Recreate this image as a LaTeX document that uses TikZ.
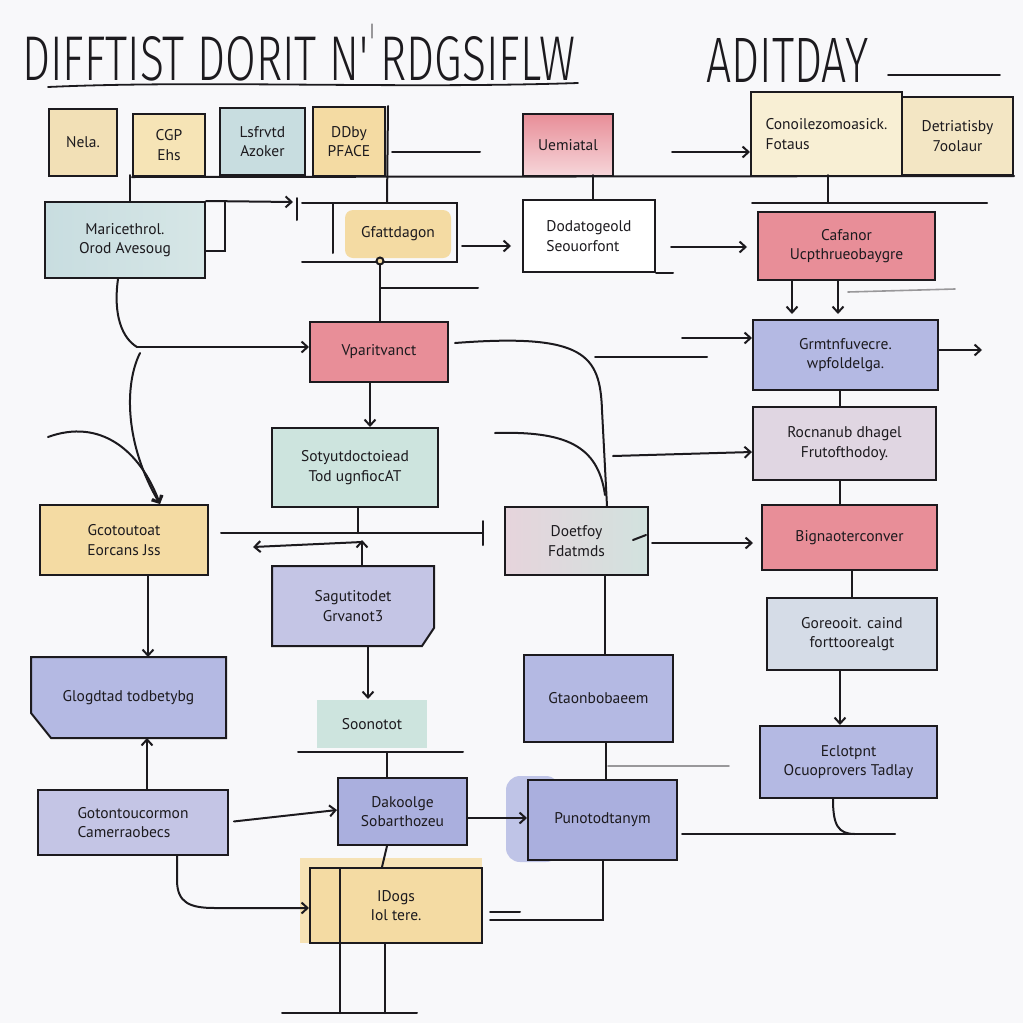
\documentclass[tikz,border=0pt]{standalone}
\usepackage{fontspec}
\setmainfont{PT Sans}
\newfontfamily\titlefont{Fira Sans Light}
\usetikzlibrary{arrows.meta,calc,backgrounds}
\definecolor{bg}{RGB}{248,248,250}
\definecolor{ink}{RGB}{28,26,30}
\definecolor{cNela}{RGB}{242,224,182}
\definecolor{cYel}{RGB}{244,219,163}
\definecolor{cYelA}{RGB}{246,228,182}
\definecolor{cYelL}{RGB}{248,239,212}
\definecolor{cYelD}{RGB}{243,230,196}
\definecolor{cTeal}{RGB}{200,221,224}
\definecolor{cTealL}{RGB}{214,230,230}
\definecolor{cTealG}{RGB}{205,228,222}
\definecolor{cPink}{RGB}{232,142,152}
\definecolor{cPinkL}{RGB}{246,214,218}
\definecolor{cBlue}{RGB}{180,185,227}
\definecolor{cBlueD}{RGB}{170,175,222}
\definecolor{cBlueL}{RGB}{196,197,229}
\definecolor{cMauve}{RGB}{224,214,226}
\definecolor{cMauveA}{RGB}{230,212,220}
\definecolor{cMint}{RGB}{210,226,222}
\definecolor{cGrey}{RGB}{213,220,231}
\tikzset{
  box/.style={draw=ink, line width=2pt, inner sep=3pt, align=center, text=ink,
              font=\fontsize{15.5}{19.5}\selectfont},
  ln/.style={draw=ink, line width=2pt, line cap=round},
  faint/.style={draw=ink!45, line width=1.2pt, line cap=round},
  arr/.style={ln, -{Straight Barb[length=6pt,width=11pt]}},
  title/.style={text=ink, inner sep=0pt, anchor=base west, font=\titlefont}
}
\begin{document}
\begin{tikzpicture}[x=1pt,y=-1pt]
\useasboundingbox (0,0) rectangle (1023,1023);
\begin{scope}[on background layer]
  \fill[bg] (0,0) rectangle (1023,1023);
\end{scope}

% ---------- title ----------
\node[title] (t1) at (22,80) {\resizebox{553pt}{44pt}{DIFFTIST DORIT N' RDGSIFLW}};
\node[title] (t2) at (706,82) {\resizebox{162pt}{44pt}{ADITDAY}};
\draw[ln, line width=1.8pt] (48,87) .. controls (200,80) and (400,89) .. (578,83);
\draw[ln, line width=1.8pt] (888,75) -- (1000,75);
\draw[faint] (372,24) -- (372,38);

% ---------- top row ----------
\node[box, fill=cNela, minimum width=68pt, minimum height=67pt] (nela) at (83,142.5) {Nela.};
\node[box, fill=cYelA, minimum width=72pt, minimum height=62pt] (cgp) at (169,145) {CGP\\Ehs};
\node[box, fill=cTeal, minimum width=85pt, minimum height=67pt] (lsf) at (262.5,141.5) {Lsfrvtd\\Azoker};
\node[box, fill=cYel, minimum width=72pt, minimum height=69pt] (ddby) at (349,141.5) {DDby\\PFACE};
\node[box, top color=cPink, bottom color=cPinkL, minimum width=90pt, minimum height=62pt] (uem) at (568,145) {Uemiatal};
\node[box, fill=cYelL, minimum width=151pt, minimum height=84pt, align=left] (cono) at (826.5,134) {Conoilezomoasick.\\Fotaus};
\node[box, fill=cYelD, minimum width=111pt, minimum height=78pt] (detr) at (957.5,136) {Detriatisby\\7oolaur};

\draw[ln] (cgp.south west) -- (detr.south east);
\draw[ln] ([yshift=-10pt]ddby.east) ++(6,0) -- ++(88,0);
\coordinate (conoIn) at (672,152);
\draw[arr] (conoIn) -- (cono.west |- conoIn);

% ---------- row 2 ----------
\node[box, left color=cTeal, right color=cTealL, minimum width=160pt, minimum height=76pt] (marter) at (125,240) {Maricethrol.\\Orod Avesoug};
\node[box, draw=none, fill=cYel, rounded corners=8pt, minimum width=106pt, minimum height=48pt] (gfat) at (398,234) {Gfattdagon};
\node[box, fill=white, minimum width=132pt, minimum height=72pt, align=left] (doda) at (589,236) {Dodatogeold\\Seouorfont};
\node[box, fill=cPink, minimum width=177pt, minimum height=68pt] (cafa) at (846.5,246) {Cafanor\\Ucpthrueobaygre};

% frame around gfat
\draw[ln] (302,203) -- (457,203) -- (457,262) -- (302,262);
\draw[ln] (333,203) -- (333,253);
% bus drops
\draw[ln] (marter.north -| 130,0) -- ++(0,-26);
\draw[ln] (ddby.north east) ++(2,0) -- (387,203);
\draw[ln] (doda.north -| 593,0) -- ++(0,-24);
\draw[ln] (cafa.north -| 828,0) ++(0,-9) -- ++(0,-27);
\draw[ln] (752,203) -- (987,203);
% marter connectors
\draw[arr] (marter.north east) -- (293,202);
\draw[ln] (297,198) -- (297,220);
\draw[ln] (225,202) -- (225,251) -- (205,251);
\draw[ln] (doda.south east) -- ++(17,0);
\draw[arr, shorten <=10pt, shorten >=11pt] (gfat.east |- 0,246) -- (doda.west |- 0,246);
\draw[arr, shorten <=15pt, shorten >=10pt] (doda.east |- 0,247) -- (cafa.west |- 0,247);

% ---------- row 3 ----------
\node[box, fill=cPink, minimum width=138pt, minimum height=60pt] (vpar) at (379,352) {Vparitvanct};
\node[box, fill=cBlue, minimum width=185pt, minimum height=70pt] (gret) at (845.5,355) {Grmtnfuvecre.\\wpfoldelga.};

\draw[ln] (gfat.south -| 380,0) ++(0,4) -- (vpar.north -| 380,0);
\draw[ln, fill=cYel] (380,261) circle (3.5pt);
\draw[ln] (380,288) -- (478,288);
\draw[arr] (cafa.south -| 792,0) -- ++(0,33);
\draw[arr] (cafa.south -| 838,0) -- ++(0,33);
\draw[faint, line width=1.6pt] (848,292) -- (955,289);
\coordinate (gretIn) at (682,338);
\draw[arr] (gretIn) -- (gret.west |- gretIn);
\coordinate (gretOut) at (982,350);
\draw[arr] (gret.east |- gretOut) -- (gretOut);
\draw[ln] (595,357) -- (707,357);

% marter curves
\coordinate (split) at (137,347);
\draw[ln] (marter.south -| 118,0) .. controls (113,315) and (122,338) .. (split);
\draw[arr] (split) -- (vpar.west |- split);

% ---------- row 4 ----------
\node[box, fill=cTealG, minimum width=166pt, minimum height=79pt] (soty) at (355,467.5) {Sotyutdoctoiead\\Tod ugnfiocAT};
\node[box, fill=cMauve, minimum width=183pt, minimum height=73pt] (rocn) at (844.5,443.5) {Rocnanub dhagel\\Frutofthodoy.};

\draw[arr] (vpar.south -| 370,0) -- (soty.north -| 370,0);
\draw[ln] (gret.south -| 840,0) -- (rocn.north -| 840,0);

% ---------- row 5 ----------
\node[box, fill=cYel, minimum width=168pt, minimum height=70pt] (gcot) at (124,540) {Gcotoutoat\\Eorcans Jss};
\node[box, left color=cMauveA, right color=cMint, minimum width=143pt, minimum height=68pt] (doet) at (576.5,541) {Doetfoy\\Fdatmds};
\node[box, fill=cPink, minimum width=175pt, minimum height=65pt] (bign) at (849.5,537.5) {Bignaoterconver};

\draw[arr] (140,353) .. controls (124,385) and (125,445) .. (gcot.north -| 160,0);
\draw[arr] (48,437) .. controls (100,418) and (140,450) .. (gcot.north -| 160,0);
\coordinate (vparOut) at (455,343);
\draw[ln] (vparOut) .. controls (585,333) and (600,355) .. (602,410) -- (doet.north -| 607,0);
\draw[ln] (495,433) .. controls (565,431) and (598,445) .. (605,495);
\coordinate (rocnIn) at (613,456);
\draw[arr] (rocnIn) -- (rocn.west |- 0,452);
\draw[ln] (rocn.south -| 840,0) -- (bign.north -| 840,0);
\draw[arr, shorten <=3pt, shorten >=8pt] (doet.east |- 0,543) -- (bign.west |- 0,543);
\draw[ln] (633,540) -- (646,535);

\coordinate (tEnd) at (483,533);
\draw[ln] (gcot.east |- tEnd) ++(12,0) -- (tEnd);
\draw[ln] (483,521) -- (483,545);
\draw[arr] (362,542) -- (253,547);
\draw[ln] (soty.south -| 358,0) -- (358,533);

% ---------- row 6 ----------
\node[box, draw=none, minimum width=160pt, minimum height=78pt] (sagu) at (353,606) {Sagutitodet\\Grvanot3};
\node[box, fill=cGrey, minimum width=170pt, minimum height=72pt] (gore) at (852,634) {Goreooit. caind\\forttoorealgt};

\begin{scope}[on background layer]
\filldraw[ln, fill=cBlueL] (sagu.north west) -- (sagu.north east) -- ($(sagu.south east)+(0,-18)$) -- ($(sagu.south east)+(-12,0)$) -- (sagu.south west) -- cycle;
\end{scope}
\draw[arr] (sagu.north -| 362,0) -- (362,540);
\draw[ln] (bign.south -| 852,0) -- (gore.north -| 852,0);

% ---------- row 7 ----------
\node[box, draw=none, minimum width=193pt, minimum height=79pt] (glog) at (128.5,697.5) {Glogdtad todbetybg};
\node[box, fill=cBlue, minimum width=149pt, minimum height=87pt] (gtao) at (598.5,698.5) {Gtaonbobaeem};
\node[box, draw=none, fill=cTealG, minimum width=110pt, minimum height=48pt] (soon) at (372,724) {Soonotot};
\node[box, fill=cBlue, minimum width=177pt, minimum height=72pt] (eclo) at (848.5,762) {Eclotpnt\\Ocuoprovers Tadlay};

\begin{scope}[on background layer]
\filldraw[ln, fill=cBlue] (glog.north west) -- (glog.north east) -- (glog.south east) -- ($(glog.south west)+(20,0)$) -- ($(glog.south west)+(0,-25)$) -- cycle;
\end{scope}
\draw[arr] (gcot.south -| 148,0) -- (glog.north -| 148,0);
\draw[arr] (sagu.south -| 368,0) -- (soon.north -| 368,0);
\draw[ln] (298,752) -- (463,752);
\draw[ln] (doet.south -| 605,0) -- (gtao.north -| 605,0);
\draw[arr] (gore.south -| 840,0) -- (eclo.north -| 840,0);

% ---------- row 8 ----------
\node[box, fill=cBlueL, minimum width=190pt, minimum height=65pt, align=left] (goto) at (133,822.5) {Gotontoucormon\\Camerraobecs};
\node[box, fill=cBlueD, minimum width=129pt, minimum height=67pt] (dako) at (402.5,811.5) {Dakoolge\\Sobarthozeu};
\begin{scope}[on background layer]
\fill[cBlue!85, rounded corners=14pt] (506,776) rectangle (560,862);
\end{scope}
\node[box, fill=cBlueD, minimum width=149pt, minimum height=80pt] (puno) at (602.5,820) {Punotodtanym};

\draw[arr] (goto.north -| 147,0) -- (glog.south -| 147,0);
\draw[arr, shorten <=5pt] (goto.east |- 0,822) -- (dako.west |- 0,810);
\draw[ln] (soon.south -| 387,0) ++(0,4) -- (dako.north -| 387,0);
\draw[arr] (dako.east |- 0,818) -- (puno.west |- 0,818);
\draw[ln] (gtao.south -| 606,0) -- (puno.north -| 606,0);
\draw[faint, line width=1.6pt] (608,766) -- (729,766);
\coordinate (ecloEnd) at (895,834);
\draw[ln] (puno.east |- ecloEnd) ++(4,0) -- (ecloEnd);
\draw[ln] (eclo.south -| 833,0) .. controls (833,825) and (838,834) .. (855,834);

% ---------- row 9 ----------
\begin{scope}[on background layer]
\fill[cYel!80] (300,858) rectangle (482,943);
\end{scope}
\node[box, fill=cYel, minimum width=172pt, minimum height=75pt] (idog) at (396,905.5) {IDogs\\Iol tere.};
\draw[ln] (dako.south -| 387,0) -- (idog.north -| 382,0);
\draw[ln] (340,868) -- (340,1013);
\draw[ln] (idog.south -| 385,0) -- (385,1013);
\draw[ln] (282,1013) -- (417,1013);
\draw[arr] (goto.south -| 177,0) -- (177,880) .. controls (177,903) and (190,908) .. (215,908) -- (idog.west |- 0,908);
\draw[ln] (490,912) -- (520,912);
\coordinate (punoEnd) at (490,920);
\draw[ln] (puno.south -| 603,0) -- (603,920) -- (punoEnd);
\end{tikzpicture}
\end{document}
